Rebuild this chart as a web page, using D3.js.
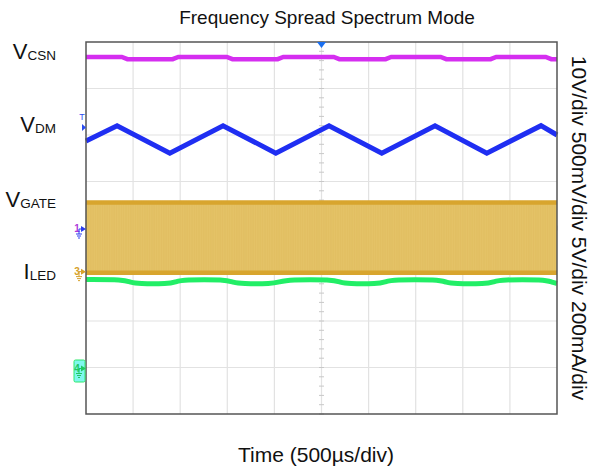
<!DOCTYPE html>
<html><head><meta charset="utf-8">
<script src="https://cdn.jsdelivr.net/npm/d3@7"></script>
<style>body{margin:0;background:#fff}svg{display:block;font-family:"Liberation Sans",Arial,sans-serif}</style>
</head><body>
<svg id="c" width="592" height="469"></svg>
<script>
// Time in divisions (500 µs/div), amplitudes in screen divisions from centre
const timeDivs = [0,1,2,3,4,5,6,7,8,9,10];
const ampDivs = [-4,-3,-2,-1,0,1,2,3,4];
const channelLabels = [
  {main:"V", sub:"CSN"},
  {main:"V", sub:"DM"},
  {main:"V", sub:"GATE"},
  {main:"I", sub:"LED"}
];
const scaleLabel = "10V/div 500mV/div 5V/div 200mA/div";
const title = "Frequency Spread Spectrum Mode";
const xTitle = "Time (500µs/div)";

// V_DM triangle vertices [t, div]
const vdm = [[0,1.87],[0.66,2.20],[1.78,1.61],[2.91,2.20],[4.03,1.61],[5.16,2.20],[6.28,1.61],[7.41,2.20],[8.51,1.61],[9.66,2.20],[10,2.00]];
// V_CSN: small steps
const vcsn = [[0,3.68],[0.76,3.68],[0.88,3.63],[1.84,3.63],[1.96,3.68],[2.99,3.68],[3.11,3.63],[4.07,3.63],[4.19,3.68],[5.26,3.68],[5.38,3.63],[6.36,3.63],[6.48,3.68],[7.53,3.68],[7.65,3.63],[8.59,3.63],[8.71,3.68],[9.76,3.68],[9.88,3.63],[10,3.63]];
// I_LED: rounded dips
const iled = [[0,-1.11],[0.8,-1.11],[0.95,-1.17],[1.1,-1.20],[1.75,-1.20],[1.9,-1.16],[2.05,-1.11],[2.98,-1.11],[3.12,-1.17],[3.3,-1.20],[3.95,-1.20],[4.1,-1.16],[4.3,-1.11],[5.25,-1.11],[5.4,-1.17],[5.55,-1.20],[6.2,-1.20],[6.35,-1.16],[6.5,-1.11],[7.5,-1.11],[7.65,-1.17],[7.8,-1.20],[8.5,-1.20],[8.65,-1.16],[8.8,-1.11],[9.75,-1.11],[9.9,-1.17],[10,-1.19]];
// V_GATE switching envelope [high, low]
const gateHigh = 0.55, gateLow = -0.96;

const svg = d3.select("#c");
const x = d3.scaleLinear().domain([0,10]).range([86,557]);
const y = d3.scaleLinear().domain([-4,4]).range([414,42]);

// grid
const g = svg.append("g");
g.selectAll(".vg").data(timeDivs.slice(1,-1)).join("line")
  .attr("x1",d=>x(d)).attr("x2",d=>x(d)).attr("y1",y(4)).attr("y2",y(-4))
  .attr("stroke","#e2e2e2").attr("stroke-width",1.2);
g.selectAll(".hg").data(ampDivs.slice(1,-1)).join("line")
  .attr("y1",d=>y(d)).attr("y2",d=>y(d)).attr("x1",x(0)).attr("x2",x(10))
  .attr("stroke","#e2e2e2").attr("stroke-width",1.2);
// minor ticks on centre axes
const minorY = d3.range(-4,4.01,0.2);
g.selectAll(".my").data(minorY).join("line")
  .attr("x1",x(5)-2.5).attr("x2",x(5)+2.5).attr("y1",d=>y(d)).attr("y2",d=>y(d))
  .attr("stroke","#c8c8c8").attr("stroke-width",1);
const minorX = d3.range(0,10.01,0.2);
g.selectAll(".mx").data(minorX).join("line")
  .attr("y1",y(0)-2.5).attr("y2",y(0)+2.5).attr("x1",d=>x(d)).attr("x2",d=>x(d))
  .attr("stroke","#c8c8c8").attr("stroke-width",1);

// VGATE band
svg.append("rect").attr("x",x(0)).attr("width",x(10)-x(0))
  .attr("y",y(gateHigh)).attr("height",y(gateLow)-y(gateHigh))
  .attr("fill","#e4c266");
svg.append("g").selectAll("line").data(d3.range(0,10,0.05)).join("line")
  .attr("x1",d=>x(d)).attr("x2",d=>x(d)).attr("y1",y(gateHigh)).attr("y2",y(gateLow))
  .attr("stroke","#dfbb5c").attr("stroke-width",0.6).attr("opacity",0.6);
[gateHigh,gateLow].forEach(v=>{
  svg.append("line").attr("x1",x(0)).attr("x2",x(10)).attr("y1",y(v)).attr("y2",y(v))
    .attr("stroke","#d8a52e").attr("stroke-width",4.5);
});

svg.append("path").datum(iled).attr("d",d3.line().x(d=>x(d[0])).y(d=>y(d[1])).curve(d3.curveBasis)).attr("fill","none")
  .attr("stroke","#22ee66").attr("stroke-width",5);
svg.append("path").datum(vcsn).attr("d",d3.line().x(d=>x(d[0])).y(d=>y(d[1]))).attr("fill","none")
  .attr("stroke","#d52ef0").attr("stroke-width",4.5);
svg.append("path").datum(vdm).attr("d",d3.line().x(d=>x(d[0])).y(d=>y(d[1]))).attr("fill","none")
  .attr("stroke","#1f2ef2").attr("stroke-width",5).attr("stroke-linejoin","miter");

// frame
svg.append("rect").attr("x",x(0)).attr("y",y(4)).attr("width",x(10)-x(0)).attr("height",y(-4)-y(4))
  .attr("fill","none").attr("stroke","#555").attr("stroke-width",1.5);

// trigger marker top
svg.append("path").attr("d",`M${x(5)-4.5},${y(4)} L${x(5)+4.5},${y(4)} L${x(5)},${y(4)+6} Z`).attr("fill","#1a6ff0");

// left markers
svg.append("text").attr("x",82).attr("y",120).attr("font-size",9).attr("fill","#2a4cf0").attr("text-anchor","middle").text("T");
svg.append("path").attr("d","M82,124 L86,127.5 L82,131 Z").attr("fill","#2a4cf0");
function chMarker(yc, label, col, numCol){
  const m = svg.append("g");
  m.append("text").attr("x",77).attr("y",yc+3).attr("font-size",10).attr("font-weight","bold").attr("fill",numCol).attr("text-anchor","middle").text(label);
  m.append("path").attr("d",`M81,${yc-3} L86,${yc} L81,${yc+3} Z`).attr("fill",col);
  m.append("path").attr("d",`M79,${yc} L81,${yc} M79,${yc} L79,${yc+5} M76,${yc+5} L82,${yc+5} M77,${yc+7} L81,${yc+7} M78,${yc+9} L80,${yc+9}`)
    .attr("stroke",col).attr("stroke-width",1).attr("fill","none");
}
chMarker(y(0)+1,"1","#2a3cf0","#b03ad8");
chMarker(y(gateLow)-1,"3","#d6a12a","#d6a12a");
svg.append("rect").attr("x",74).attr("y",360).attr("width",11).attr("height",22).attr("rx",1.5)
  .attr("fill","#7ff7ee").attr("stroke","#2ee86a").attr("stroke-width",1);
chMarker(y(-3)+1,"4","#20c860","#20c860");

// channel labels
const lblY = [59,132,207,279];
channelLabels.forEach((c,i)=>{
  const t = svg.append("text").attr("x",56).attr("y",lblY[i]).attr("text-anchor","end").attr("fill","#111");
  t.append("tspan").attr("font-size",22).text(c.main);
  t.append("tspan").attr("font-size",13.5).attr("dy",1).text(c.sub);
});

// titles
svg.append("text").attr("x",327).attr("y",24).attr("text-anchor","middle").attr("font-size",19).attr("fill","#111").text(title);
svg.append("text").attr("x",316).attr("y",462).attr("text-anchor","middle").attr("font-size",21).attr("fill","#111").text(xTitle);
svg.append("text").attr("transform","translate(572,228) rotate(90)").attr("text-anchor","middle").attr("font-size",21).attr("fill","#111").text(scaleLabel);
</script>
</body></html>
